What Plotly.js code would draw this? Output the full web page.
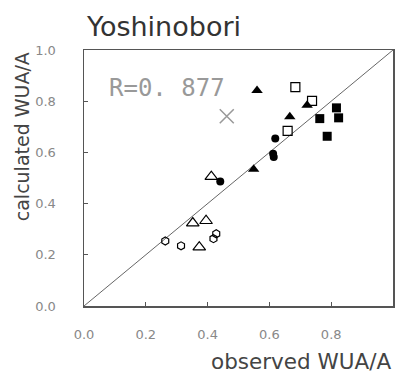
<!DOCTYPE html>
<html>
<head>
<meta charset="utf-8">
<script src="https://cdn.plot.ly/plotly-3.0.1.min.js"></script>
<style>html,body{margin:0;padding:0;background:#fff;}#chart{width:401px;height:376px;}</style>
</head>
<body>
<div id="chart"></div>
<script>
// Data (observed vs calculated WUA/A)
const filledTriX = [0.560, 0.666, 0.722, 0.549];
const filledTriY = [0.842, 0.739, 0.784, 0.534];
const openSqX = [0.684, 0.738, 0.659];
const openSqY = [0.855, 0.801, 0.684];
const filledSqX = [0.817, 0.824, 0.763, 0.787];
const filledSqY = [0.774, 0.735, 0.732, 0.663];
const filledCircX = [0.619, 0.612, 0.614, 0.441];
const filledCircY = [0.654, 0.595, 0.582, 0.486];
const openTriX = [0.412, 0.352, 0.395, 0.373];
const openTriY = [0.505, 0.324, 0.333, 0.230];
const openHexX = [0.263, 0.314, 0.428, 0.419];
const openHexY = [0.254, 0.235, 0.282, 0.263];
const crossX = [0.462];
const crossY = [0.741];
const diagX = [0, 1];
const diagY = [0, 1];
const tickVals = [0, 0.2, 0.4, 0.6, 0.8, 1.0];
const tickText = ['0.0', '0.2', '0.4', '0.6', '0.8', '1.0'];
const chartTitle = 'Yoshinobori';
const xTitle = 'observed WUA/A';
const yTitle = 'calculated WUA/A';
const rText = 'R=0. 877';

const traces = [
  {x: diagX, y: diagY, mode: 'lines', line: {color: '#666', width: 1}, hoverinfo: 'skip'},
  {x: filledTriX, y: filledTriY, mode: 'markers', marker: {symbol: 'triangle-up', size: 10, color: '#000'}},
  {x: openSqX, y: openSqY, mode: 'markers', marker: {symbol: 'square-open', size: 9, color: '#000', line: {width: 1.2}}},
  {x: filledSqX, y: filledSqY, mode: 'markers', marker: {symbol: 'square', size: 9, color: '#000'}},
  {x: filledCircX, y: filledCircY, mode: 'markers', marker: {symbol: 'circle', size: 8, color: '#000'}},
  {x: openTriX, y: openTriY, mode: 'markers', marker: {symbol: 'triangle-up-open', size: 11, color: '#000', line: {width: 1.2}}},
  {x: openHexX, y: openHexY, mode: 'markers', marker: {symbol: 'hexagon-open', size: 8, color: '#000', line: {width: 1.2}}},
  {x: crossX, y: crossY, mode: 'markers', marker: {symbol: 'x-thin-open', size: 14, color: '#999', line: {width: 1.5, color: '#999'}}}
];

const axisCommon = {
  range: [0, 1], showline: true, mirror: true, linecolor: '#555', linewidth: 1.5,
  ticks: 'inside', ticklen: 4, tickcolor: '#555', tickwidth: 1,
  tickvals: tickVals, ticktext: tickText,
  showgrid: false, zeroline: false,
  tickfont: {family: 'DejaVu Sans', size: 13, color: '#888'}
};

const layout = {
  width: 401, height: 376,
  margin: {l: 84, r: 8, t: 50, b: 70},
  paper_bgcolor: '#fff', plot_bgcolor: '#fff',
  showlegend: false,
  xaxis: Object.assign({}, axisCommon, {ticklabelstandoff: 16}),
  yaxis: Object.assign({}, axisCommon, {ticklabelstandoff: 24}),
  annotations: [
    {text: chartTitle, xref: 'paper', yref: 'paper', x: 0.0, y: 1.09, xanchor: 'left', yanchor: 'middle',
     showarrow: false, font: {family: 'DejaVu Sans', size: 27, color: '#333'}},
    {text: yTitle, xref: 'paper', yref: 'paper', x: -0.2, y: 0.66, xanchor: 'center', yanchor: 'middle',
     textangle: -90, showarrow: false, font: {family: 'DejaVu Sans', size: 19, color: '#444'}},
    {text: xTitle, xref: 'paper', yref: 'paper', x: 1.0, y: -0.216, xanchor: 'right', yanchor: 'middle',
     showarrow: false, font: {family: 'DejaVu Sans', size: 21.5, color: '#444'}},
    {text: rText, xref: 'x', yref: 'y', x: 0.074, y: 0.85, xanchor: 'left', yanchor: 'middle',
     showarrow: false, font: {family: 'DejaVu Sans Mono', size: 24, color: '#999'}}
  ]
};

Plotly.newPlot('chart', traces, layout, {displayModeBar: false, staticPlot: true});
</script>
</body>
</html>
